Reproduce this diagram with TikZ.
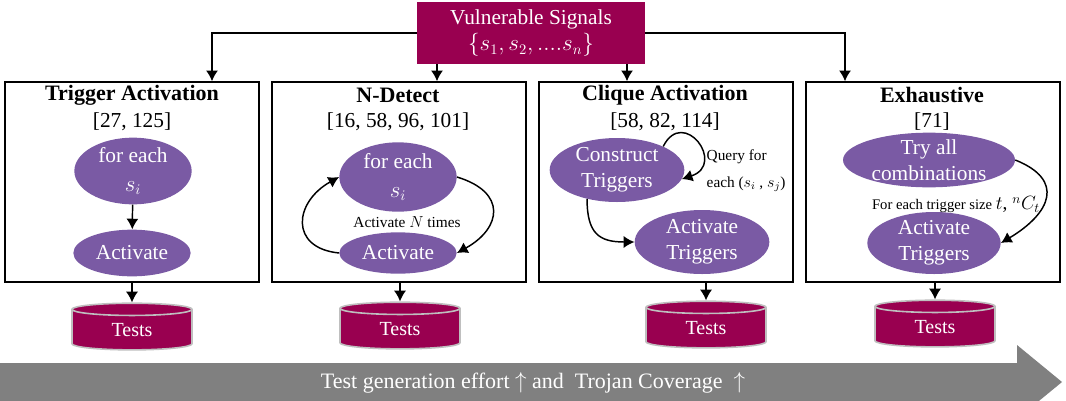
\documentclass[tikz,border=0pt]{standalone}
\usepackage{amsmath}
\usepackage{fontspec}
\setmainfont{Liberation Serif}
\usetikzlibrary{shapes.geometric,arrows.meta,calc}

\definecolor{sigred}{RGB}{153,0,80}
\definecolor{stepviolet}{RGB}{122,90,164}
\definecolor{effortgray}{RGB}{128,128,128}

\tikzset{
  sigbox/.style={fill=sigred,text=white,align=center,inner sep=0pt,minimum width=171pt,minimum height=46.5pt,font=\fontsize{16}{20}\selectfont},
  panel/.style={draw,line width=1.1pt,minimum width=190.5pt,minimum height=150pt,inner sep=0pt},
  title/.style={font=\fontsize{16.5}{18}\selectfont\bfseries},
  refs/.style={font=\fontsize{16}{18}\selectfont},
  stepnode/.style={ellipse,fill=stepviolet,text=white,align=center,inner xsep=0pt,inner ysep=-8pt,font=\fontsize{16}{19.5}\selectfont},
  testdb/.style={cylinder,shape border rotate=90,aspect=0.3,fill=sigred,draw=lightgray,line width=1.2pt,text=white,minimum width=90pt,minimum height=35pt,inner sep=0pt,font=\fontsize{15}{16}\selectfont},
  note/.style={font=\fontsize{11.5}{20}\selectfont},
  arr/.style={-{Latex[length=8pt,width=9pt]},line width=1.1pt}
}

\begin{document}
\begin{tikzpicture}[x=0.75pt,y=0.75pt,yscale=-1,xscale=1]
\useasboundingbox (0,0) rectangle (1066,400);
\clip (0,0) rectangle (1066,400);

% Source
\node[sigbox] (sig) at (531,33) {Vulnerable Signals\\ $\{s_1, s_2, ....s_n\}$};

% Panels
\node[panel] (ta) at (132,182) {};
\node[panel] (nd) at (399,182) {};
\node[panel] (cl) at (666,182) {};
\node[panel] (ex) at (933,182) {};

% Titles
\node[title] (ta-t) at (132,95) {Trigger Activation};
\node[refs] (ta-r) at (132,122) {[27, 125]};
\node[title] (nd-t) at (398,95) {N-Detect};
\node[refs] (nd-r) at (398,122) {[16, 58, 96, 101]};
\node[title] (cl-t) at (665,95) {Clique Activation};
\node[refs] (cl-r) at (665,122) {[58, 82, 114]};
\node[title] (ex-t) at (932,95) {Exhaustive};
\node[refs] (ex-r) at (932,122) {[71]};

% Trigger Activation
\node[stepnode,minimum width=88pt,minimum height=50pt] (fe1) at (133,171) {for each\\[2pt] $s_i$};
\node[stepnode,minimum width=88pt,minimum height=35pt] (act1) at (132,253) {Activate};
\draw[arr] (fe1) -- (act1);

% N-Detect
\node[stepnode,minimum width=88pt,minimum height=52pt] (fe2) at (398,177) {for each\\[2pt] $s_i$};
\node[stepnode,minimum width=88pt,minimum height=31pt] (act2) at (398,253) {Activate};
\node[note] (ntimes) at (407,222) {Activate $N$ times};
\draw[arr] (act2.west) .. controls +(-50,-5) and +(-45,25) .. (fe2.west);
\draw[arr] (fe2.east) .. controls +(50,15) and +(45,-25) .. (act2.east);

% Clique Activation
\node[stepnode,minimum width=101pt,minimum height=48pt] (ct) at (617,170) {Construct\\ Triggers};
\node[stepnode,minimum width=101pt,minimum height=48pt] (at3) at (702,242) {Activate\\ Triggers};
\node[note,align=left,anchor=west] (qry) at (702,171) {Query for\\ each ($s_i$ , $s_j$)};
\draw[arr] (ct.27) .. controls +(20,-40) and +(45,-15) .. (ct.-8);
\draw[arr] (ct.-136) .. controls +(0,35) and +(-35,0) .. (at3.west);

% Exhaustive
\node[stepnode,minimum width=129pt,minimum height=41pt] (tc) at (929,160) {Try all\\ combinations};
\node[stepnode,minimum width=100pt,minimum height=46.5pt] (at4) at (934,243) {Activate\\ Triggers};
\node[note,font=\fontsize{11}{13}\selectfont] (tsz) at (956,205) {For each trigger size\ {\fontsize{14.5}{16}\selectfont$t$, $^{n}C_t$}};
\draw[arr] (tc.east) .. controls +(50,20) and +(50,-30) .. (at4.east);

% Source to panels
\draw[arr] (sig.west) -| ($(ta.north)+(80,0)$);
\draw[arr] (sig.east) -| ($(ex.north)+(-88,0)$);
\coordinate (s2) at ($(sig.south)+(-94,0)$);
\coordinate (s3) at ($(sig.south)+(96,0)$);
\draw[arr] (s2) -- (s2 |- nd.north);
\draw[arr] (s3) -- (s3 |- cl.north);

% Tests
\node[testdb] (ts1) at (132,330) {Tests};
\node[testdb] (ts2) at (400,329) {Tests};
\node[testdb] (ts3) at (706,328) {Tests};
\node[testdb] (ts4) at (935,327) {Tests};
\draw[arr] (ta.south -| ts1.north) -- (ts1.north);
\draw[arr] (nd.south -| ts2.north) -- (ts2.north);
\draw[arr] (cl.south -| ts3.north) -- (ts3.north);
\draw[arr] (ex.south -| ts4.north) -- (ts4.north);

% Effort arrow
\fill[effortgray] (0,363) -- (1017,363) -- (1017,345) -- (1062,382) -- (1017,419) -- (1017,401) -- (0,401) -- cycle;
\node[text=white,font=\fontsize{16.5}{18}\selectfont] (eff) at (533,383) {Test generation effort $\uparrow$ and\ \ Trojan Coverage\ \ $\uparrow$};

\end{tikzpicture}
\end{document}
